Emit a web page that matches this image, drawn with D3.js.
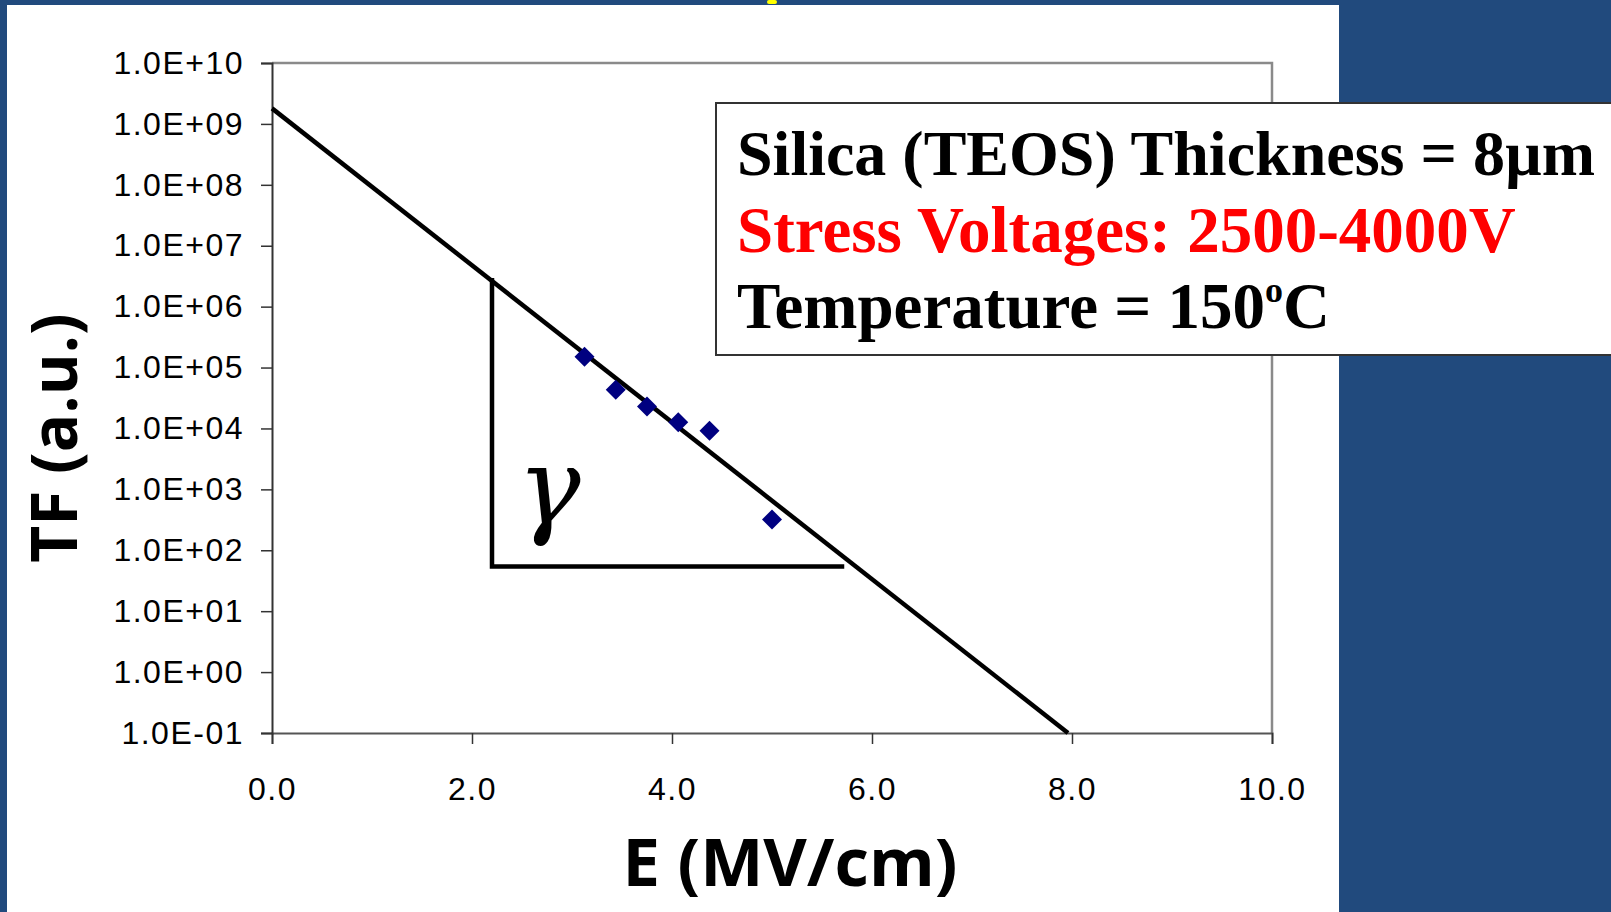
<!DOCTYPE html>
<html>
<head>
<meta charset="utf-8">
<script src="https://cdn.jsdelivr.net/npm/d3@7"></script>
<style>
  html, body { margin: 0; padding: 0; background: #214a7d; }
  svg { display: block; }
</style>
</head>
<body>
<svg id="chart" width="1611" height="912"></svg>
<script>
// Electric field (MV/cm) for each stress voltage over an 8 µm film
const fieldE = [3.125, 3.4375, 3.75, 4.0625, 4.375, 5.0];
// Time to failure (a.u.)
const timeToFail = [1.5e5, 4.3e4, 2.3e4, 1.26e4, 9.2e3, 3.2e2];

// Fitted exponential trend (end points)
const fitE = [0, 7.96];
const fitTF = [1.8e9, 0.1];

// Slope triangle annotation
const triE = [2.2, 2.2, 5.7];
const triTF = [2.7e6, 54, 54];

const xTicks = [0, 2, 4, 6, 8, 10];
const xTickLabels = ["0.0", "2.0", "4.0", "6.0", "8.0", "10.0"];
const yTicks = [1e-1, 1e0, 1e1, 1e2, 1e3, 1e4, 1e5, 1e6, 1e7, 1e8, 1e9, 1e10];
const yTickLabels = ["1.0E-01", "1.0E+00", "1.0E+01", "1.0E+02", "1.0E+03", "1.0E+04",
                     "1.0E+05", "1.0E+06", "1.0E+07", "1.0E+08", "1.0E+09", "1.0E+10"];

const infoLines = ["Silica (TEOS) Thickness = 8\u00b5m", "Stress Voltages: 2500-4000V"];

const svg = d3.select("#chart");

// slide panel
svg.append("rect").attr("x", 7).attr("y", 5).attr("width", 1332).attr("height", 912)
  .attr("fill", "#ffffff");
svg.append("rect").attr("x", 767).attr("y", 0).attr("width", 10).attr("height", 4)
  .attr("rx", 2).attr("fill", "#ffff00");

const x = d3.scaleLinear().domain([0, 10]).range([272, 1272]);
const y = d3.scaleLog().domain([1e-1, 1e10]).range([733, 63]);

// plot area border (top / right)
svg.append("path")
  .attr("d", `M${x(0)},${y(1e10)}H${x(10)}V${y(1e-1)}`)
  .attr("fill", "none").attr("stroke", "#8a8a8a").attr("stroke-width", 2.5);

// axes
const gx = svg.append("g").attr("transform", `translate(0,${y(1e-1)})`)
  .call(d3.axisBottom(x).tickValues(xTicks)
    .tickFormat((d, i) => xTickLabels[i]).tickSize(11).tickPadding(33));
const gy = svg.append("g").attr("transform", `translate(${x(0)},0)`)
  .call(d3.axisLeft(y).tickValues(yTicks)
    .tickFormat((d, i) => yTickLabels[i]).tickSize(11).tickPadding(17));

[gx, gy].forEach(g => {
  g.select(".domain").attr("stroke", "#333").attr("stroke-width", 2);
  g.selectAll(".tick line").attr("stroke", "#333").attr("stroke-width", 1.5);
  g.selectAll(".tick text").attr("fill", "#000")
    .style("font-family", "'Liberation Sans', Arial, sans-serif")
    .style("font-size", "32px")
    .style("letter-spacing", "1.5px");
});
gx.select(".domain").attr("stroke", "#555");

// fit line
const line = d3.line().x((d, i) => x(d)).y((d, i) => y(fitTF[i]));
svg.append("path").datum(fitE)
  .attr("d", line)
  .attr("fill", "none").attr("stroke", "#000").attr("stroke-width", 4.5);

// slope triangle
const triLine = d3.line().x(d => x(d)).y((d, i) => y(triTF[i]));
svg.append("path").datum(triE)
  .attr("d", triLine)
  .attr("fill", "none").attr("stroke", "#000").attr("stroke-width", 4.5)
  .attr("stroke-linejoin", "miter").attr("stroke-linecap", "square");

svg.append("text")
  .attr("x", 549).attr("y", 524)
  .attr("text-anchor", "middle")
  .style("font-family", "'DejaVu Serif', serif")
  .style("font-style", "italic")
  .style("font-size", "106px")
  .text("\u03b3");

// data points (diamonds)
const diamond = d3.symbol().type(d3.symbolSquare).size(200);
svg.append("g").selectAll("path")
  .data(fieldE)
  .join("path")
  .attr("d", diamond)
  .attr("transform", (d, i) => `translate(${x(d)},${y(timeToFail[i])}) rotate(45)`)
  .attr("fill", "#000080");

// axis titles
svg.append("text")
  .attr("transform", "translate(77,438) rotate(-90)")
  .attr("text-anchor", "middle")
  .style("font-family", "'Open Sans', sans-serif")
  .style("font-weight", "700")
  .style("font-size", "64px")
  .text("TF (a.u.)");

svg.append("text")
  .attr("x", 790).attr("y", 886)
  .attr("text-anchor", "middle")
  .style("font-family", "'Open Sans', sans-serif")
  .style("font-weight", "700")
  .style("font-size", "67px")
  .text("E (MV/cm)");

// conditions box
svg.append("rect")
  .attr("x", 716).attr("y", 103).attr("width", 920).attr("height", 252)
  .attr("fill", "#fff").attr("stroke", "#333").attr("stroke-width", 2);

const info = svg.append("g")
  .style("font-family", "'Liberation Serif', 'Times New Roman', serif")
  .style("font-weight", "700")
  .style("font-size", "65px");

info.append("text").attr("x", 737).attr("y", 175).attr("fill", "#000")
  .style("font-size", "64px").text(infoLines[0]);
info.append("text").attr("x", 737).attr("y", 252).attr("fill", "#ff0000").text(infoLines[1]);
const t3 = info.append("text").attr("x", 737).attr("y", 328).attr("fill", "#000");
t3.append("tspan").text("Temperature = 150");
t3.append("tspan").attr("dy", -26).style("font-size", "36px").text("o");
t3.append("tspan").attr("dy", 26).text("C");
</script>
</body>
</html>
